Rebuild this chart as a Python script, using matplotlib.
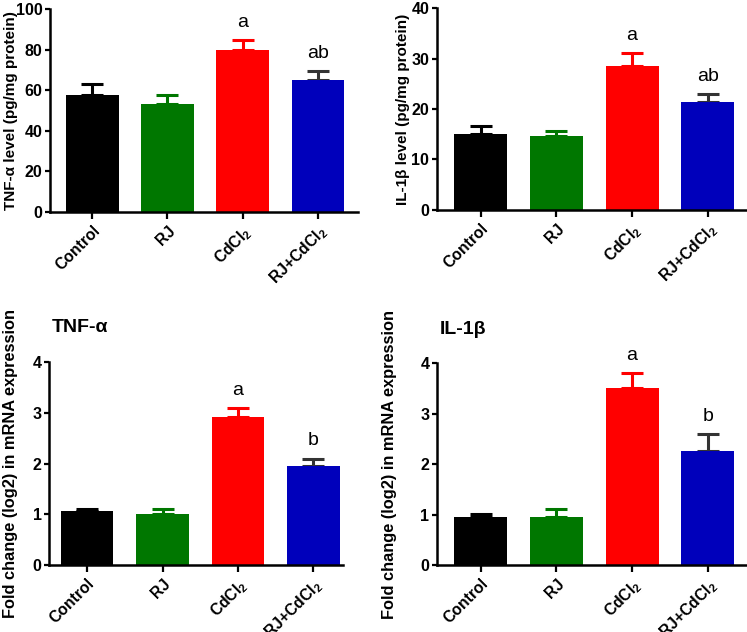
import matplotlib
matplotlib.use("Agg")
import matplotlib.pyplot as plt

plt.rcParams['font.family'] = ['Liberation Sans', 'DejaVu Sans']
plt.rcParams['font.weight'] = 'bold'
plt.rcParams['axes.labelweight'] = 'bold'
plt.rcParams['mathtext.fontset'] = 'custom'
plt.rcParams['mathtext.rm'] = 'Liberation Sans'
plt.rcParams['mathtext.it'] = 'Liberation Sans'

# groups and colours
groups = ['Control', 'RJ', 'CdCl$_2$', 'RJ+CdCl$_2$']
bar_colors = ['#000000', '#007700', '#ff0000', '#0000bb']
err_colors = ['#000000', '#007700', '#ff0000', '#333333']

# protein levels
tnf_level = [57.8, 53.3, 80.0, 65.2]
tnf_level_err = [5.4, 4.3, 4.8, 4.5]
tnf_level_sig = ['', '', 'a', 'ab']

il1_level = [15.0, 14.7, 28.6, 21.3]
il1_level_err = [1.6, 0.9, 2.5, 1.7]
il1_level_sig = ['', '', 'a', 'ab']

# mRNA fold change
tnf_mrna = [1.06, 1.01, 2.91, 1.96]
tnf_mrna_err = [0.04, 0.09, 0.18, 0.14]
tnf_mrna_sig = ['', '', 'a', 'b']

il1_mrna = [0.96, 0.96, 3.52, 2.26]
il1_mrna_err = [0.05, 0.15, 0.29, 0.34]
il1_mrna_sig = ['', '', 'a', 'b']

fig = plt.figure(figsize=(7.47, 6.32), dpi=100)


def panel(rect, vals, errs, sig, ylim, yticks, ylabel, xlim, label_x, label_size, title=None):
    ax = fig.add_axes(rect)
    x = range(len(vals))
    ax.bar(x, vals, width=0.7, color=bar_colors, zorder=2)
    for i in x:
        ax.errorbar(i, vals[i], yerr=[[0], [errs[i]]], fmt='none', ecolor=err_colors[i],
                    elinewidth=2.2, capsize=8, capthick=2.2, zorder=1)
        if sig[i]:
            ax.annotate(sig[i], (i, vals[i] + errs[i]), xytext=(0, 9.5), textcoords='offset points',
                        ha='center', va='baseline', fontsize=14, fontweight='normal')
    ax.set_ylim(*ylim)
    ax.set_yticks(yticks)
    ax.set_xlim(*xlim)
    ax.set_xticks(list(x))
    ax.set_xticklabels(groups, rotation=45, ha='right', rotation_mode='anchor', fontsize=11.3)
    ax.tick_params(axis='y', labelsize=11.5, width=1.6, length=3.5, pad=2)
    ax.tick_params(axis='x', width=1.6, length=5, pad=3)
    for s in ['top', 'right']:
        ax.spines[s].set_visible(False)
    for s in ['left', 'bottom']:
        ax.spines[s].set_linewidth(1.8)
    ax.set_ylabel(ylabel, fontsize=label_size)
    ax.yaxis.set_label_coords(label_x, 0.5)
    if title:
        ax.text(0.01, 1.17, title, transform=ax.transAxes, fontsize=14, ha='left', va='center')
    return ax


panel([0.067, 0.665, 0.412, 0.32], tnf_level, tnf_level_err, tnf_level_sig,
      (0, 100), [0, 20, 40, 60, 80, 100], 'TNF-α level (pg/mg protein)', (-0.56, 3.53), -0.104, 11)
panel([0.585, 0.668, 0.415, 0.319], il1_level, il1_level_err, il1_level_sig,
      (0, 40), [0, 10, 20, 30, 40], 'IL-1β level (pg/mg protein)', (-0.58, 3.52), -0.086, 11)
panel([0.066, 0.106, 0.393, 0.321], tnf_mrna, tnf_mrna_err, tnf_mrna_sig,
      (0, 4), [0, 1, 2, 3, 4], 'Fold change (log2) in mRNA expression', (-0.5, 3.39), -0.105, 11.8,
      title='TNF-α')
panel([0.585, 0.106, 0.415, 0.319], il1_mrna, il1_mrna_err, il1_mrna_sig,
      (0, 4), [0, 1, 2, 3, 4], 'Fold change (log2) in mRNA expression', (-0.58, 3.52), -0.129, 11.8,
      title='IL-1β')

fig.savefig('out.png', dpi=100)
